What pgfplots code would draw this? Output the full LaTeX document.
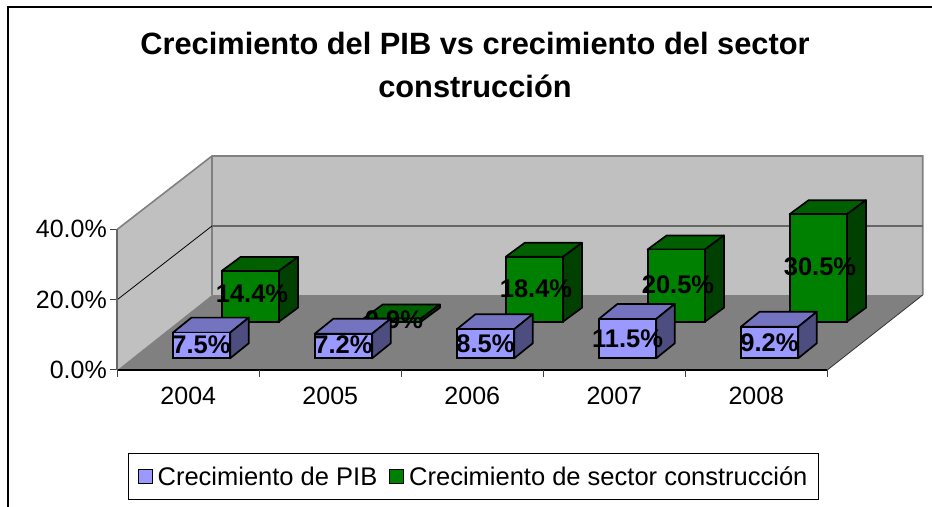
\documentclass[border=0pt]{standalone}
\usepackage{fontspec}
\setmainfont{Liberation Sans}
\usepackage{pgfplots}
\pgfplotsset{compat=1.18}
\definecolor{wall}{HTML}{C0C0C0}
\definecolor{floorc}{HTML}{808080}
\definecolor{edge}{HTML}{808080}
\definecolor{bfront}{HTML}{9999FF}
\definecolor{btop}{HTML}{7373BF}
\definecolor{bside}{HTML}{4D4D80}
\definecolor{gfront}{HTML}{008000}
\definecolor{gtop}{HTML}{006000}
\definecolor{gside}{HTML}{004000}
% side faces of one 3D bar: #1 category index, #2 value, #3 top colour, #4 side colour, #5 depth x, #6 depth y
\newcommand{\barfaces}[6]{%
  \pgfmathsetmacro{\xl}{#1-0.2018}%
  \pgfmathsetmacro{\xr}{#1+0.2018}%
  \pgfmathsetmacro{\bl}{#1-0.2018+#5}%
  \pgfmathsetmacro{\br}{#1+0.2018+#5}%
  \pgfmathsetmacro{\yb}{#2+#6}%
  \addplot[forget plot,fill=#3,draw=black,line width=1.7bp,line join=round] coordinates {(\xl,#2) (\xr,#2) (\br,\yb) (\bl,\yb)} --cycle;
  \addplot[forget plot,fill=#4,draw=black,line width=1.7bp,line join=round] coordinates {(\xr,0) (\xr,#2) (\br,\yb) (\br,#6)} --cycle;
}
\pgfplotsset{
  barlayer/.style={
    scale only axis,width=710bp,
    xmin=-0.5,xmax=4.5,ymin=0,ymax=40,
    hide axis,clip=false,
  },
  labelnodes/.style={
    forget plot,draw=none,
    point meta=explicit symbolic,
    nodes near coords,
    nodes near coords style={anchor=center,inner sep=0pt,text=black,
      font=\fontsize{25.5bp}{25.5bp}\selectfont\bfseries},
  },
}
\begin{document}
\begin{tikzpicture}[x=1bp,y=1bp]
\path[use as bounding box] (-117.3,-137) rectangle (814.7,370);
% frame
\draw[black,line width=2bp] (-109.3,-140) -- (-109.3,363) -- (820,363);
% title
\node[align=center,inner sep=0pt,font=\fontsize{30.8bp}{43bp}\selectfont\bfseries] at (357.7,305)
  {Crecimiento del PIB vs crecimiento del sector\\construcción};
% walls, floor, ticks
\begin{axis}[
  at={(0,0)},anchor=south west,
  scale only axis,width=710bp,height=140.7bp,
  xmin=-0.5,xmax=4.5,ymin=0,ymax=40,
  clip=false,axis on top,
  axis x line*=bottom,axis y line*=left,
  x axis line style={-,draw=black,line width=1.6bp},
  y axis line style={-,draw=black!60,line width=2bp},
  tick align=outside,major tick length=7bp,
  xtick={0,1,2,3,4},xticklabels={2004,2005,2006,2007,2008},
  xtick style={draw=none},
  extra x ticks={-0.5,0.5,1.5,2.5,3.5,4.5},
  extra x tick labels={},
  extra x tick style={xtick style={draw=black!75,line width=1bp}},
  ytick={0,20,40},
  ytick style={draw=black!75,line width=1bp},
  /pgf/number format/assume math mode=true,
  yticklabel={\pgfmathprintnumber[fixed,fixed zerofill,precision=1]{\tick}\%},
  ticklabel style={font=\fontsize{25bp}{25bp}\selectfont},
  xticklabel style={yshift=-7bp},
]
\addplot[forget plot,fill=wall,draw=none] coordinates {(-0.5,0) (-0.5,40) (0.1669,60.84) (0.1669,21.32)} --cycle;
\addplot[forget plot,fill=wall,draw=none] coordinates {(0.1669,21.32) (0.1669,60.84) (5.172,60.84) (5.172,21.32)} --cycle;
\addplot[forget plot,fill=floorc,draw=none] coordinates {(-0.5,0) (4.5,0) (5.172,21.32) (0.1669,21.32)} --cycle;
\addplot[forget plot,edge,line width=1.6bp] coordinates {(-0.5,40) (0.1669,60.84) (5.172,60.84) (5.172,21.32)};
\addplot[forget plot,edge,line width=1.6bp] coordinates {(0.1669,60.84) (0.1669,21.32)};
\addplot[forget plot,black,line width=0.8bp] coordinates {(-0.5,20) (0.1669,40.94)};
\addplot[forget plot,black!60,line width=1.2bp] coordinates {(0.1669,40.94) (5.172,40.94)};
\addplot[forget plot,black!80,line width=0.8bp] coordinates {(4.5,0) (5.172,21.32)};
\end{axis}
% green series
\begin{axis}[barlayer,at={(62bp,48.3bp)},anchor=south west,height=141bp]
\barfaces{0}{14.4}{gtop}{gside}{0.134}{3.97}
\barfaces{1}{0.9}{gtop}{gside}{0.134}{3.97}
\barfaces{2}{18.4}{gtop}{gside}{0.134}{3.97}
\barfaces{3}{20.5}{gtop}{gside}{0.134}{3.97}
\barfaces{4}{30.5}{gtop}{gside}{0.134}{3.97}
\addplot[forget plot,ybar,bar width=57.3bp,bar shift=0pt,fill=gfront,draw=black,line width=1.7bp]
  coordinates {(0,14.4) (1,0.9) (2,18.4) (3,20.5) (4,30.5)};
\addplot[labelnodes] coordinates {(0.012,7.9)[14.4\%] (1.012,0.5)[0.9\%] (2.012,9.3)[18.4\%] (3.012,10.4)[20.5\%] (4.012,15.6)[30.5\%]};
\end{axis}
% blue series and legend
\begin{axis}[barlayer,at={(13.2bp,11.7bp)},anchor=south west,height=136.8bp,
  legend style={at={(-0.0031,-1.038)},anchor=south west,draw=black,line width=0.9bp,
    font=\fontsize{25.5bp}{25.5bp}\selectfont,inner xsep=9bp,inner ysep=11bp,
    /tikz/every even column/.style={column sep=10bp}},
  legend columns=2,
]
\barfaces{0}{7.5}{btop}{bside}{0.131}{4.39}
\barfaces{1}{7.2}{btop}{bside}{0.131}{4.39}
\barfaces{2}{8.5}{btop}{bside}{0.131}{4.39}
\barfaces{3}{11.5}{btop}{bside}{0.131}{4.39}
\barfaces{4}{9.2}{btop}{bside}{0.131}{4.39}
\addplot[forget plot,ybar,bar width=57.3bp,bar shift=0pt,fill=bfront,draw=black,line width=1.7bp]
  coordinates {(0,7.5) (1,7.2) (2,8.5) (3,11.5) (4,9.2)};
\addplot[labelnodes] coordinates {(0,4.1)[7.5\%] (1,4.1)[7.2\%] (2,4.4)[8.5\%] (3,5.8)[11.5\%] (4,4.6)[9.2\%]};
\addlegendimage{legend image code/.code={\draw[fill=bfront,draw=black,line width=0.9bp] (0bp,-7bp) rectangle (14bp,7bp); \path (17bp,0bp);}}
\addlegendentry{Crecimiento de PIB}
\addlegendimage{legend image code/.code={\draw[fill=gfront,draw=black,line width=0.9bp] (0bp,-7bp) rectangle (14bp,7bp); \path (17bp,0bp);}}
\addlegendentry{Crecimiento de sector construcción}
\end{axis}
\end{tikzpicture}
\end{document}
